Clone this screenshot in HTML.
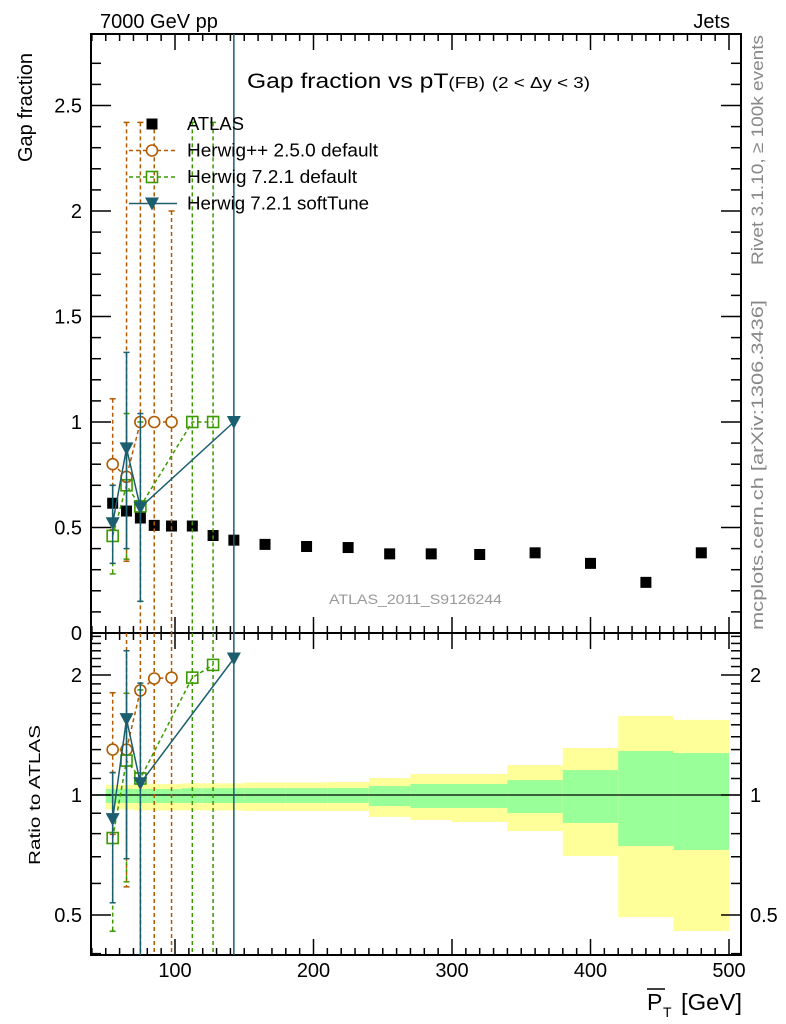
<!DOCTYPE html>
<html><head><meta charset="utf-8">
<style>
html,body{margin:0;padding:0;background:#fff;}
svg{display:block;font-family:"Liberation Sans",sans-serif;}
</style></head>
<body>
<svg id="chart" width="786" height="1024" viewBox="0 0 786 1024" xmlns="http://www.w3.org/2000/svg">
<text x="100" y="28" font-size="20">7000 GeV pp</text>
<text x="730" y="28" font-size="20" text-anchor="end">Jets</text>
<text x="247" y="88" font-size="21" textLength="343" lengthAdjust="spacingAndGlyphs">Gap fraction vs pT<tspan font-size="16">(FB)</tspan> <tspan font-size="16">(2 &lt; Δy &lt; 3)</tspan></text>
<text transform="translate(32,162) rotate(-90)" font-size="20">Gap fraction</text>
<text transform="translate(40,865) rotate(-90)" font-size="16" textLength="140" lengthAdjust="spacingAndGlyphs">Ratio to ATLAS</text>
<text transform="translate(763,265) rotate(-90)" font-size="17" fill="#888" textLength="230" lengthAdjust="spacingAndGlyphs">Rivet 3.1.10, ≥ 100k events</text>
<text transform="translate(763,630) rotate(-90)" font-size="17" fill="#888" textLength="330" lengthAdjust="spacingAndGlyphs">mcplots.cern.ch [arXiv:1306.3436]</text>
<text x="329" y="604" font-size="14" fill="#999" textLength="173" lengthAdjust="spacingAndGlyphs">ATLAS_2011_S9126244</text>
<g>
<text x="647" y="1010" font-size="23">P</text>
<text x="663" y="1017" font-size="14">T</text>
<text x="681" y="1010" font-size="23" textLength="61" lengthAdjust="spacingAndGlyphs">[GeV]</text>
<line x1="647" y1="989" x2="665" y2="989" stroke="#000" stroke-width="1.5"/>
</g>
<g id="bands"></g>
<g id="axes"></g>
<g id="series"></g>
<g id="legend"></g>
</svg>
<script>
// ---- data ----
const binEdges = [50,60,70,80,90,105,120,135,150,180,210,240,270,300,340,380,420,460,500];
const atlasX = [55,65,75,85,97.5,112.5,127.5,142.5,165,195,225,255,285,320,360,400,440,480];
const atlasY = [0.615,0.578,0.545,0.51,0.507,0.507,0.462,0.44,0.42,0.41,0.405,0.375,0.375,0.372,0.38,0.33,0.24,0.38];
const bandYellowUp = [1.06,1.06,1.065,1.065,1.065,1.07,1.07,1.07,1.075,1.075,1.078,1.103,1.129,1.129,1.189,1.312,1.579,1.543];
const bandYellowDn = [0.92,0.92,0.915,0.915,0.915,0.915,0.915,0.915,0.912,0.912,0.912,0.881,0.866,0.856,0.812,0.703,0.494,0.456];
const bandGreenUp = [1.035,1.035,1.035,1.035,1.035,1.04,1.04,1.04,1.04,1.04,1.041,1.053,1.066,1.066,1.09,1.155,1.289,1.274];
const bandGreenDn = [0.955,0.955,0.955,0.955,0.955,0.955,0.955,0.955,0.955,0.955,0.955,0.938,0.928,0.928,0.901,0.851,0.745,0.728];

const hppX = [55,65,75,85,97.5];
const hppY = [0.80,0.74,1.0,1.0,1.0];
const hppHi = [1.11,2.42,2.42,2.42,2.0];
const hppLo = [0.49,0.34,0,0,0];
const hppRatio = [1.30,1.30,1.83,1.96,1.97];

const h721X = [55,65,75,112.5,127.5];
const h721Y = [0.46,0.70,0.60,1.0,1.0];
const h721Hi = [0.70,1.04,1.0,2.42,2.42];
const h721Lo = [0.28,0.35,0.15,0,0];
const h721Ratio = [0.78,1.22,1.10,1.97,2.12];

const softX = [55,65,75,142.5];
const softY = [0.52,0.875,0.595,1.0];
const softHi = [0.70,1.33,1.04,3.0];
const softLo = [0.33,0.40,0.15,0];
const softRatio = [0.87,1.55,1.07,2.2];

const yTicksMain = [0,0.5,1,1.5,2,2.5];
const yTickLabelsMain = ["0","0.5","1","1.5","2","2.5"];
const xTicks = [100,200,300,400,500];
const xTickLabels = ["100","200","300","400","500"];
const rTicks = [0.5,1,2];
const rTickLabels = ["0.5","1","2"];

// ---- geometry ----
const L=91,R=741,T=34,MB=633,RB=955;
const NS="http://www.w3.org/2000/svg";
const xs = v => 36.5 + 1.385*v;
const ys = v => 633 - 211*v;
const rs = v => 795 - 120*Math.log2(v);
const cy = (y,a,b)=>Math.max(a,Math.min(b,y));
function mk(tag,attrs,parent){const e=document.createElementNS(NS,tag);for(const k in attrs)e.setAttribute(k,attrs[k]);parent.appendChild(e);return e;}
const bands=document.getElementById('bands'),axes=document.getElementById('axes'),series=document.getElementById('series'),legend=document.getElementById('legend');

for(let i=0;i<atlasX.length;i++){
  const x1=xs(binEdges[i]),x2=xs(binEdges[i+1]);
  let r=mk('rect',{x:x1,y:rs(bandYellowUp[i]),width:x2-x1,height:rs(bandYellowDn[i])-rs(bandYellowUp[i]),fill:'#ffff99'},bands);
  
  
  r=mk('rect',{x:x1,y:rs(bandGreenUp[i]),width:x2-x1,height:rs(bandGreenDn[i])-rs(bandGreenUp[i]),fill:'#99ff99'},bands);
  
  
}
let ln=mk('line',{x1:L,y1:rs(1),x2:R,y2:rs(1),stroke:'#000','stroke-width':1.2},bands);



for(const [y1,y2,nm] of [[T,MB,'main-plot-frame'],[MB,RB,'ratio-plot-frame']]){
  const f=mk('rect',{x:L,y:y1,width:R-L,height:y2-y1,fill:'none',stroke:'#000','stroke-width':2},axes);
  
  
}
for(let v=40;v<=500;v+=10){
  const x=xs(v);if(x<L||x>R)continue;const maj=v%100===0,len=maj?16:7;
  for(const [yb,yt] of [[MB,T],[RB,MB]]){
    mk('line',{x1:x,y1:yb,x2:x,y2:yb-len,stroke:'#000','stroke-width':1.5},axes);
    mk('line',{x1:x,y1:yt,x2:x,y2:yt+len,stroke:'#000','stroke-width':1.5},axes);
  }
}
xTicks.forEach((v,i)=>{const t=mk('text',{x:xs(v),y:977,'font-size':20,'text-anchor':'middle'},axes);t.textContent=xTickLabels[i];
  
  });
for(let k=0;k<=27;k++){const v=k/10,y=ys(v);if(y<T)continue;const maj=k%5===0,len=maj?20:10;
  mk('line',{x1:L,y1:y,x2:L+len,y2:y,stroke:'#000','stroke-width':1.5},axes);
  mk('line',{x1:R,y1:y,x2:R-len,y2:y,stroke:'#000','stroke-width':1.5},axes);}
yTicksMain.forEach((v,i)=>{const t=mk('text',{x:82,y:ys(v)+7,'font-size':20,'text-anchor':'end'},axes);t.textContent=yTickLabelsMain[i];
  
  });
const rMinor=[0.4,0.5,0.6,0.7,0.8,0.9,1,1.1,1.2,1.3,1.4,1.5,1.6,1.7,1.8,1.9,2,2.1,2.2,2.3,2.4,2.5];
rMinor.forEach(v=>{const y=rs(v);if(y<MB||y>RB)return;const maj=rTicks.includes(v),len=maj?20:10;
  mk('line',{x1:L,y1:y,x2:L+len,y2:y,stroke:'#000','stroke-width':1.5},axes);
  mk('line',{x1:R,y1:y,x2:R-len,y2:y,stroke:'#000','stroke-width':1.5},axes);});
rTicks.forEach((v,i)=>{for(const [x,a] of [[82,'end'],[750,'start']]){const t=mk('text',{x:x,y:rs(v)+7,'font-size':20,'text-anchor':a},axes);t.textContent=rTickLabels[i];
  
  }});

function marker(kind,x,y,col,g){
  if(kind==='sq')return mk('rect',{x:x-5.5,y:y-5.5,width:11,height:11,fill:'none',stroke:col,'stroke-width':1.6},g);
  if(kind==='circ')return mk('circle',{cx:x,cy:y,r:5.5,fill:'#fff',stroke:col,'stroke-width':1.6},g);
  if(kind==='tri')return mk('path',{d:`M${x-7},${y-6} L${x+7},${y-6} L${x},${y+7} Z`,fill:col},g);
  return mk('rect',{x:x-5.5,y:y-5.5,width:11,height:11,fill:'#000'},g);
}
function drawSeries(name,X,Y,Hi,Lo,Rt,col,dash,kind){
  const g=mk('g',{},series);
  
  
  const da=dash?'4,3':'none';
  mk('polyline',{points:X.map((x,i)=>xs(x)+','+ys(Y[i])).join(' '),fill:'none',stroke:col,'stroke-width':1.5,'stroke-dasharray':da},g);
  X.forEach((x,i)=>{const px=xs(x),y1=cy(ys(Hi[i]),T,MB),y2=cy(ys(Lo[i]),T,MB);
    mk('line',{x1:px,y1:y1,x2:px,y2:y2,stroke:col,'stroke-width':1.5,'stroke-dasharray':da},g);
    if(y1>T+1)mk('line',{x1:px-3,y1:y1,x2:px+3,y2:y1,stroke:col,'stroke-width':1.5},g);
    if(y2<MB-1)mk('line',{x1:px-3,y1:y2,x2:px+3,y2:y2,stroke:col,'stroke-width':1.5},g);
    const m=marker(kind,px,ys(Y[i]),col,g);
    
    
  });
  mk('polyline',{points:X.map((x,i)=>xs(x)+','+cy(rs(Rt[i]),MB,RB)).join(' '),fill:'none',stroke:col,'stroke-width':1.5,'stroke-dasharray':da},g);
  X.forEach((x,i)=>{const px=xs(x),a=atlasY[atlasX.indexOf(x)];
    const y1=cy(rs(Hi[i]/a),MB,RB),y2=Lo[i]>0?cy(rs(Lo[i]/a),MB,RB):RB;
    mk('line',{x1:px,y1:y1,x2:px,y2:y2,stroke:col,'stroke-width':1.5,'stroke-dasharray':da},g);
    if(y1>MB+1)mk('line',{x1:px-3,y1:y1,x2:px+3,y2:y1,stroke:col,'stroke-width':1.5},g);
    if(y2<RB-1)mk('line',{x1:px-3,y1:y2,x2:px+3,y2:y2,stroke:col,'stroke-width':1.5},g);
    const m=marker(kind,px,cy(rs(Rt[i]),MB+6,RB),col,g);
    
    
  });
}
const ga=mk('g',{},series);


atlasX.forEach((x,i)=>{const m=marker('atlas',xs(x),ys(atlasY[i]),'#000',ga);
  
  });
drawSeries('herwigpp-250',hppX,hppY,hppHi,hppLo,hppRatio,'#b25a00',true,'circ');
drawSeries('herwig-721-default',h721X,h721Y,h721Hi,h721Lo,h721Ratio,'#3a9a00',true,'sq');
drawSeries('herwig-721-softtune',softX,softY,softHi,softLo,softRatio,'#1b5e6e',false,'tri');

const entries=[['ATLAS','atlas','#000',false,57],['Herwig++ 2.5.0 default','circ','#b25a00',true,191],['Herwig 7.2.1 default','sq','#3a9a00',true,170],['Herwig 7.2.1 softTune','tri','#1b5e6e',false,182]];
entries.forEach((e,i)=>{const y=124+26.5*i,g=mk('g',{},legend);
  
  
  if(i>0)mk('line',{x1:129,y1:y,x2:177,y2:y,stroke:e[2],'stroke-width':1.5,'stroke-dasharray':e[3]?'4,3':'none'},g);
  marker(e[1],152,y,e[2],g);
  const t=mk('text',{x:187,y:y+6,'font-size':18,textLength:e[4],lengthAdjust:'spacingAndGlyphs'},g);t.textContent=e[0];});
</script>
</body></html>
